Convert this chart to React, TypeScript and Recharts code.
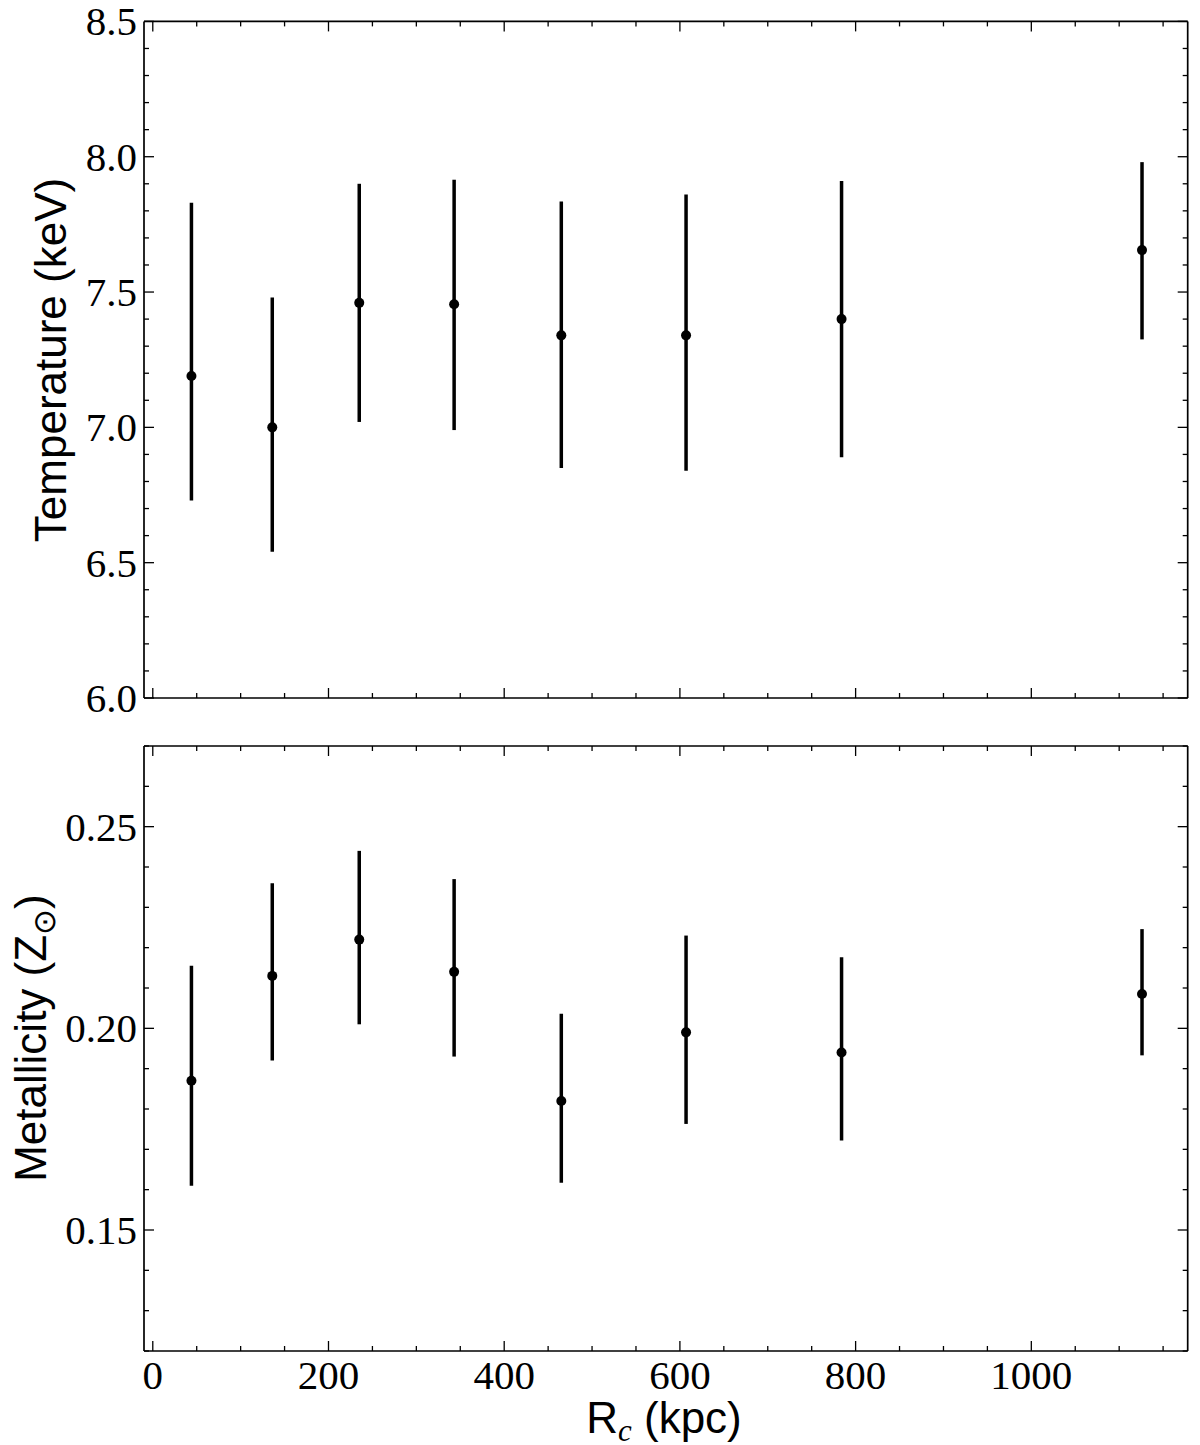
import React from "react";
import { ScatterChart, Scatter, XAxis, YAxis, ErrorBar } from "recharts";

// radial bins (kpc)
const radiusKpc = [44, 136, 235, 343, 465, 607, 784, 1126];

// temperature (keV) with lower / upper bounds
const temperature = [7.19, 7.0, 7.46, 7.455, 7.34, 7.34, 7.4, 7.655];
const temperatureLow = [6.73, 6.54, 7.02, 6.99, 6.85, 6.84, 6.89, 7.325];
const temperatureHigh = [7.83, 7.48, 7.9, 7.915, 7.835, 7.86, 7.91, 7.98];

// metallicity (Z_sun) with lower / upper bounds
const metallicity = [0.187, 0.213, 0.222, 0.214, 0.182, 0.199, 0.194, 0.2085];
const metallicityLow = [0.161, 0.192, 0.201, 0.193, 0.1617, 0.1763, 0.1722, 0.1933];
const metallicityHigh = [0.2155, 0.236, 0.244, 0.237, 0.2036, 0.223, 0.2176, 0.2246];

const xMajor = [0, 200, 400, 600, 800, 1000];
const tempMajor = [6.0, 6.5, 7.0, 7.5, 8.0, 8.5];
const metalMajor = [0.15, 0.2, 0.25];

const steps = (start: number, end: number, step: number) => {
  const out: number[] = [];
  const n = Math.round((end - start) / step);
  for (let i = 0; i <= n; i++) out.push(Math.round((start + i * step) * 1e6) / 1e6);
  return out;
};
const xTicks = steps(0, 1150, 50);
const tempTicks = steps(6.0, 8.5, 0.1);
const metalTicks = steps(0.12, 0.27, 0.01);

const INK = "#000";
const SERIF = '"Liberation Serif", "Times New Roman", serif';
const SANS = '"Liberation Sans", Arial, sans-serif';

const isMajor = (v: number, majors: number[]) => majors.some((m) => Math.abs(m - v) < 1e-6);

type Side = "bottom" | "top" | "left" | "right";

function makeTick(side: Side, majors: number[], fmt?: (v: number) => string) {
  return (props: any) => {
    const { x, y, payload } = props;
    const v = payload.value as number;
    const major = isMajor(v, majors);
    const len = major ? 10 : 5;
    let x2 = x, y2 = y;
    if (side === "bottom") y2 = y - len;
    if (side === "top") y2 = y + len;
    if (side === "left") x2 = x + len;
    if (side === "right") x2 = x - len;
    return (
      <g>
        <line x1={x} y1={y} x2={x2} y2={y2} stroke={INK} strokeWidth={1.3} />
        {fmt && major && side === "bottom" && (
          <text x={x} y={y + 38} textAnchor="middle" fontFamily={SERIF} fontSize={41} fill={INK}>
            {fmt(v)}
          </text>
        )}
        {fmt && major && side === "left" && (
          <text x={x - 7} y={y} textAnchor="end" dominantBaseline="central" fontFamily={SERIF} fontSize={41} fill={INK}>
            {fmt(v)}
          </text>
        )}
      </g>
    );
  };
}

const axisLine = { stroke: INK, strokeWidth: 1.7 };

function Panel({
  top, height, margin, rows, yDomain, yTicks, yMajor, yFmt, showXLabels,
}: any) {
  return (
    <div style={{ position: "absolute", left: 0, top, width: 1200, height }}>
      <ScatterChart width={1200} height={height} margin={margin} style={{ overflow: "visible" }}>
        <XAxis xAxisId="b" orientation="bottom" dataKey="x" type="number" domain={[-10, 1178]} allowDataOverflow
          ticks={xTicks} interval={0} height={1} tickSize={0} tickMargin={0} tickLine={false} axisLine={axisLine}
          tick={makeTick("bottom", xMajor, showXLabels ? (v) => String(v) : undefined)} />
        <XAxis xAxisId="t" orientation="top" dataKey="x" type="number" domain={[-10, 1178]} allowDataOverflow
          ticks={xTicks} interval={0} height={1} tickSize={0} tickMargin={0} tickLine={false} axisLine={axisLine}
          tick={makeTick("top", xMajor)} />
        <YAxis yAxisId="l" orientation="left" dataKey="y" type="number" domain={yDomain} allowDataOverflow
          ticks={yTicks} interval={0} width={1} tickSize={0} tickMargin={0} tickLine={false} axisLine={axisLine}
          tick={makeTick("left", yMajor, yFmt)} />
        <YAxis yAxisId="r" orientation="right" dataKey="y" type="number" domain={yDomain} allowDataOverflow
          ticks={yTicks} interval={0} width={1} tickSize={0} tickMargin={0} tickLine={false} axisLine={axisLine}
          tick={makeTick("right", yMajor)} />
        <Scatter data={rows} xAxisId="b" yAxisId="l" dataKey="y" isAnimationActive={false}
          shape={(p: any) => <circle cx={p.cx} cy={p.cy} r={5} fill={INK} />}>
          <ErrorBar dataKey="err" direction="y" width={0}
            stroke={INK} strokeWidth={3.5} isAnimationActive={false} />
        </Scatter>
        <Scatter data={rows} xAxisId="t" yAxisId="r" dataKey="y" isAnimationActive={false} shape={() => <g />} />
      </ScatterChart>
    </div>
  );
}

export default function App() {
  const tempRows = radiusKpc.map((x, i) => ({
    x, y: temperature[i], err: [temperature[i] - temperatureLow[i], temperatureHigh[i] - temperature[i]],
  }));
  const metalRows = radiusKpc.map((x, i) => ({
    x, y: metallicity[i], err: [metallicity[i] - metallicityLow[i], metallicityHigh[i] - metallicity[i]],
  }));

  return (
    <div style={{ position: "absolute", left: 0, top: 0, width: 1200, height: 1445, background: "#fff" }}>
      <Panel top={0} height={720} margin={{ top: 20.4, left: 143, right: 11.3, bottom: 21 }}
        rows={tempRows} yDomain={[6.0, 8.5]} yTicks={tempTicks} yMajor={tempMajor}
        yFmt={(v: number) => v.toFixed(1)} showXLabels={false} />
      <Panel top={720} height={725} margin={{ top: 25, left: 143, right: 11.3, bottom: 93 }}
        rows={metalRows} yDomain={[0.12, 0.27]} yTicks={metalTicks} yMajor={metalMajor}
        yFmt={(v: number) => v.toFixed(2)} showXLabels={true} />
      <svg width={1200} height={1445} style={{ position: "absolute", left: 0, top: 0, pointerEvents: "none" }}>
        <text transform="translate(66,360) rotate(-90)" textAnchor="middle" fontFamily={SANS} fontSize={44} fill={INK}>
          Temperature (keV)
        </text>
        <text transform="translate(46,1038) rotate(-90)" textAnchor="middle" fontFamily={SANS} fontSize={44} fill={INK}>
          Metallicity (Z<tspan fontSize={31} dy={9}>⊙</tspan><tspan dy={-9}>)</tspan>
        </text>
        <text x={664} y={1433} textAnchor="middle" fontFamily={SANS} fontSize={44} fill={INK}>
          R<tspan fontFamily={SERIF} fontStyle="italic" fontSize={31} dy={8}>c</tspan>
          <tspan dy={-8}> (kpc)</tspan>
        </text>
      </svg>
    </div>
  );
}
